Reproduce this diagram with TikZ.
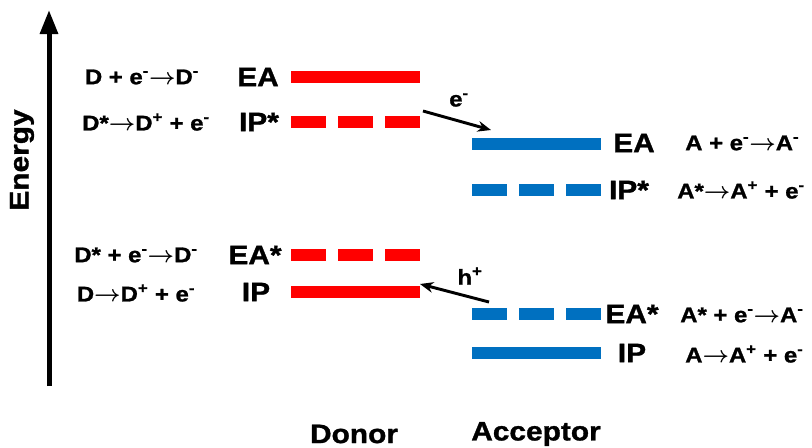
\documentclass[tikz,border=0pt]{standalone}
\usepackage{fontspec}
\setmainfont{Liberation Sans}[FakeStretch=1.12]
\usetikzlibrary{arrows.meta}
\definecolor{dred}{RGB}{255,0,0}
\definecolor{ablue}{RGB}{0,112,192}
\newcommand{\Sm}{\textsuperscript{-}}
\newcommand{\Sp}{\textsuperscript{+}}
\newcommand{\ra}{$\boldsymbol{\rightarrow}$}
\usepackage{amsmath}
\tikzset{
  lvl/.style={line width=9pt},
  dashlvl/.style={line width=9pt, dash pattern=on 26.25pt off 9pt},
  big/.style={font=\bfseries\fontsize{20}{22}\selectfont\addfontfeature{FakeBold=1.2}, inner sep=0pt},
  rxn/.style={font=\bfseries\fontsize{16}{18}\selectfont\addfontfeature{FakeBold=1.2}, inner sep=0pt},
  axis label/.style={font=\bfseries\fontsize{20}{22}\selectfont\addfontfeature{FakeBold=1.2}, inner sep=0pt},
  xfer/.style={line width=2.2pt, -{Stealth[length=10pt,width=8pt]}},
}
\begin{document}
\begin{tikzpicture}[x=0.75pt,y=-0.75pt]
\useasboundingbox (0,0) rectangle (812,447);
% energy axis
\coordinate (ax0) at (49,386);
\coordinate (ax1) at (49,10);
\draw[line width=3.75pt, -{Triangle[length=18pt,width=13pt]}] (ax0) -- (ax1);
\node[axis label, rotate=90] (energy) at (22,160) {Energy};
% donor levels
\coordinate (dEAa) at (291,77);  \coordinate (dEAb) at (420,77);
\coordinate (dIPsa) at (291,122); \coordinate (dIPsb) at (420,122);
\coordinate (dEAsa) at (291,255); \coordinate (dEAsb) at (420,255);
\coordinate (dIPa) at (291,292);  \coordinate (dIPb) at (420,292);
\draw[lvl, dred] (dEAa) -- (dEAb);
\draw[dashlvl, dred] (dIPsa) -- (dIPsb);
\draw[dashlvl, dred] (dEAsa) -- (dEAsb);
\draw[lvl, dred] (dIPa) -- (dIPb);
% acceptor levels
\coordinate (aEAa) at (472,144);  \coordinate (aEAb) at (601,144);
\coordinate (aIPsa) at (472,190); \coordinate (aIPsb) at (601,190);
\coordinate (aEAsa) at (472,314); \coordinate (aEAsb) at (601,314);
\coordinate (aIPa) at (472,353);  \coordinate (aIPb) at (601,353);
\draw[lvl, ablue] (aEAa) -- (aEAb);
\draw[dashlvl, ablue] (aIPsa) -- (aIPsb);
\draw[dashlvl, ablue] (aEAsa) -- (aEAsb);
\draw[lvl, ablue] (aIPa) -- (aIPb);
% transfer arrows
\coordinate (e0) at (423,111);
\coordinate (e1) at (491,130);
\draw[xfer] (e0) -- (e1);
\node[rxn] (elab) at (459,100) {e\Sm};
\coordinate (h0) at (489,302);
\coordinate (h1) at (420,284);
\draw[xfer] (h0) -- (h1);
\node[rxn] (hlab) at (470,276) {h\Sp};
% donor labels
\node[big] (lEA) at (258,77) {EA};
\node[big] (lIPs) at (259,122) {IP*};
\node[big] (lEAs) at (255,255) {EA*};
\node[big] (lIP) at (256,292) {IP};
\node[rxn] (r1) at (142,77) {D + e\Sm\ra D\Sm};
\node[rxn] (r2) at (146,122) {D*\ra D\Sp\ + e\Sm};
\node[rxn] (r3) at (136,255) {D* + e\Sm\ra D\Sm};
\node[rxn] (r4) at (136,293) {D\ra D\Sp\ + e\Sm};
% acceptor labels
\node[big] (rEA) at (634,143) {EA};
\node[big] (rIPs) at (629,190) {IP*};
\node[big] (rEAs) at (632,314) {EA*};
\node[big] (rIP) at (632,353) {IP};
\node[rxn, anchor=west] (a1) at (685,143) {A + e\Sm\ra A\Sm};
\node[rxn, anchor=west] (a2) at (677,190) {A*\ra A\Sp\ + e\Sm};
\node[rxn, anchor=west] (a3) at (680,315) {A* + e\Sm\ra A\Sm};
\node[rxn, anchor=west] (a4) at (685,354) {A\ra A\Sp\ + e\Sm};
% bottom labels
\node[big] (donor) at (354,434) {Donor};
\node[big] (acceptor) at (536,434) {Acceptor};
\end{tikzpicture}
\end{document}
